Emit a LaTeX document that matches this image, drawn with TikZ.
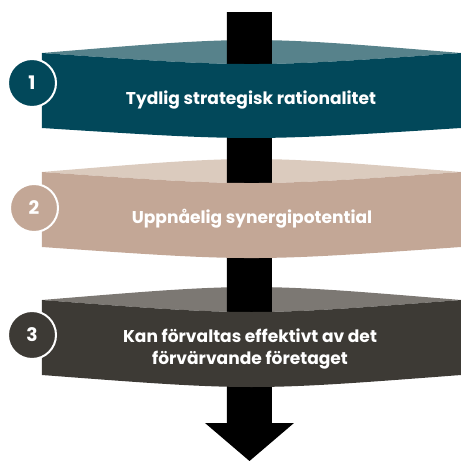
\documentclass[tikz,border=0pt]{standalone}
\usepackage{fontspec}
\setmainfont{Poppins}
\usepackage{tikz}
\usetikzlibrary{positioning}

\definecolor{tealbody}{HTML}{02485A}
\definecolor{teallens}{HTML}{57828B}
\definecolor{beigebody}{HTML}{C3A796}
\definecolor{beigelens}{HTML}{DBCBBE}
\definecolor{darkbody}{HTML}{3D3A35}
\definecolor{darklens}{HTML}{7C7873}

\tikzset{
    numcircle/.style={circle, draw=white, line width=1.5pt, minimum size=36pt,
        inner sep=0pt, text=white, font=\bfseries\fontsize{14}{16}\selectfont},
    bandtext/.style={text=white, align=center,
        font=\bfseries\fontsize{12.8}{16.5}\selectfont}
}

\begin{document}
\begin{tikzpicture}[x=0.75pt, y=-0.75pt]

\useasboundingbox (0,0) rectangle (462,461);

% Top faces of the bands
\fill[teallens] (42,53) .. controls (251.5,35.7) .. (461,53)
    .. controls (251.5,67.7) .. (42,53) -- cycle;
\fill[beigelens] (42,172) .. controls (251.5,154.7) .. (461,172)
    .. controls (251.5,186.7) .. (42,172) -- cycle;
\fill[darklens] (42,300) .. controls (251.5,282.7) .. (461,300)
    .. controls (251.5,316) .. (42,300) -- cycle;

% Arrow through the bands
\fill[black] (227,12) -- (272,12) -- (272,423) -- (294,423) -- (249.5,461)
    -- (205,423) -- (227,423) -- cycle;

% Band bodies
\fill[tealbody] (42,53) .. controls (251.5,67.7) .. (461,53) -- (461,128)
    .. controls (251.5,141.3) .. (42,128) -- cycle;
\fill[beigebody] (42,172) .. controls (251.5,186.7) .. (461,172) -- (461,247)
    .. controls (251.5,261.7) .. (42,247) -- cycle;
\fill[darkbody] (42,300) .. controls (251.5,316) .. (461,300) -- (461,375)
    .. controls (251.5,391) .. (42,375) -- cycle;

% Numbers
\node[numcircle, fill=tealbody] (num1) at (32,83) {1};
\node[numcircle, fill=beigebody] (num2) at (34,208) {2};
\node[numcircle, fill=darkbody] (num3) at (32,335) {3};

% Labels
\node[bandtext] (step1) at (251,100) {Tydlig strategisk rationalitet};
\node[bandtext] (step2) at (252,219) {Uppnåelig synergipotential};
\node[bandtext] (step3) at (250,349) {Kan förvaltas effektivt av det\\förvärvande företaget};

\end{tikzpicture}
\end{document}
